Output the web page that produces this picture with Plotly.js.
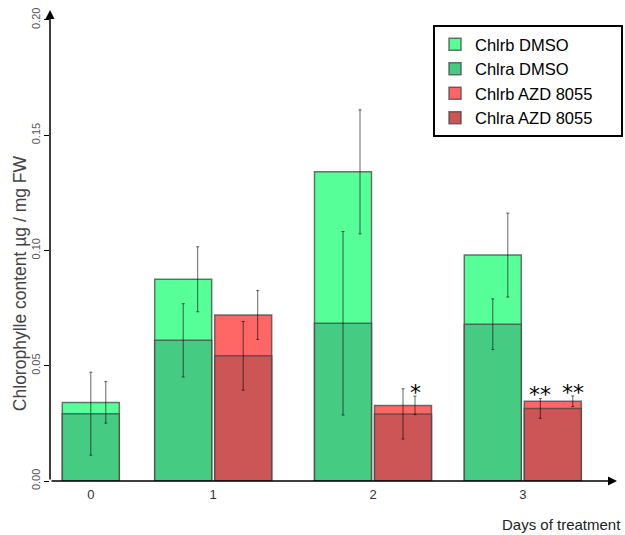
<!DOCTYPE html>
<html>
<head>
<meta charset="utf-8">
<script src="https://cdn.plot.ly/plotly-3.0.1.min.js"></script>
<style>html,body{margin:0;padding:0;background:#fff;}#chart{width:625px;height:535px;}</style>
</head>
<body>
<div id="chart"></div>
<script>
// ---- data ----
const days = ['0', '1', '2', '3'];
const seriesNames = ['Chlrb DMSO', 'Chlra DMSO', 'Chlrb AZD 8055', 'Chlra AZD 8055'];
const chlaDMSO = [0.0292, 0.0610, 0.0684, 0.0680];
const chlbDMSO = [0.0049, 0.0265, 0.0657, 0.0300];
const chlaAZD = [null, 0.0543, 0.0291, 0.0315];
const chlbAZD = [null, 0.0177, 0.0037, 0.0031];
const errChlaDMSO = [0.0180, 0.0159, 0.0398, 0.0110];
const errChlbDMSO = [0.0090, 0.0141, 0.0269, 0.0182];
const errChlaAZD = [null, 0.0149, 0.0109, 0.0043];
const errChlbAZD = [null, 0.0106, 0.0040, 0.0023];
const sigChlaAZD = ['', '', '', '**'];
const sigChlbAZD = ['', '', '*', '**'];

// ---- layout helpers (positions along the x axis) ----
const dayPos = [40.8, 163.2, 323, 472.8];
const barW = 57, grpOff = 30;
const offA_DMSO = [0, 0, 0, 0];
const offB_DMSO = [15, 14.5, 17, 15];
const offA_AZD = [0, 0, 0, -12.5];
const offB_AZD = [15, 14.5, 12, 20];
const xDMSO = dayPos.map((p, i) => i === 0 ? p : p - grpOff);
const xAZD = dayPos.map(p => p + grpOff);
const legendPad = '\u00a0'.repeat(5);

const totDMSO = chlaDMSO.map((a, i) => a + chlbDMSO[i]);
const totAZD = chlaAZD.map((a, i) => a === null ? null : a + chlbAZD[i]);

const lineStyle = {color: 'rgba(70,70,70,0.75)', width: 1.5};
const errStyle = (arr) => ({type: 'data', array: arr, visible: true, color: 'rgba(0,0,0,0.6)', thickness: 1, width: 1.5});
const shift = (xs, offs) => xs.map((v, i) => v + offs[i]);
const invisible = {size: 1, color: 'rgba(0,0,0,0)'};

const traces = [
  {type: 'bar', name: seriesNames[0] + legendPad, x: xDMSO, y: totDMSO, width: barW,
   marker: {color: '#57FF99', line: lineStyle}},
  {type: 'bar', name: seriesNames[1] + legendPad, x: xDMSO, y: chlaDMSO, width: barW,
   marker: {color: '#45CC82', line: lineStyle}},
  {type: 'bar', name: seriesNames[2] + legendPad, x: xAZD, y: totAZD, width: barW,
   marker: {color: '#FF6666', line: lineStyle}},
  {type: 'bar', name: seriesNames[3] + legendPad, x: xAZD, y: chlaAZD, width: barW,
   marker: {color: '#CC5555', line: lineStyle}},
  {type: 'scatter', mode: 'markers', showlegend: false, x: shift(xDMSO, offA_DMSO), y: chlaDMSO,
   marker: invisible, error_y: errStyle(errChlaDMSO)},
  {type: 'scatter', mode: 'markers', showlegend: false, x: shift(xDMSO, offB_DMSO), y: totDMSO,
   marker: invisible, error_y: errStyle(errChlbDMSO)},
  {type: 'scatter', mode: 'markers', showlegend: false, x: shift(xAZD, offA_AZD), y: chlaAZD,
   marker: invisible, error_y: errStyle(errChlaAZD)},
  {type: 'scatter', mode: 'markers', showlegend: false, x: shift(xAZD, offB_AZD), y: totAZD,
   marker: invisible, error_y: errStyle(errChlbAZD)}
];

const xMax = 567, yMax = 0.2043;
const annotations = [
  {xref: 'x', yref: 'y', x: xMax, y: 0, axref: 'x', ayref: 'y', ax: 0, ay: 0, text: '',
   showarrow: true, arrowhead: 2, arrowsize: 1.2, arrowwidth: 1.5, arrowcolor: '#000'},
  {xref: 'x', yref: 'y', x: 0, y: yMax, axref: 'x', ayref: 'y', ax: 0, ay: 0, text: '',
   showarrow: true, arrowhead: 2, arrowsize: 1.2, arrowwidth: 1.5, arrowcolor: '#000'},
  {xref: 'paper', yref: 'paper', x: -0.053, y: 0.42, text: 'Chlorophylle content µg / mg FW',
   textangle: -90, showarrow: false, xanchor: 'center', yanchor: 'middle',
   font: {family: 'Liberation Sans, Arial, sans-serif', size: 17.5, color: '#444'}},
  {xref: 'paper', yref: 'paper', x: 1.0106, y: -0.092, text: 'Days of treatment',
   showarrow: false, xanchor: 'right', yanchor: 'middle',
   font: {family: 'Liberation Sans, Arial, sans-serif', size: 15, color: '#222'}}
];
const sigFont = {family: 'DejaVu Sans, sans-serif', size: 22, color: '#000'};
sigChlaAZD.forEach((s, i) => {
  if (s) annotations.push({xref: 'x', yref: 'y', x: xAZD[i] + offA_AZD[i], y: chlaAZD[i] + errChlaAZD[i], text: s,
    showarrow: false, yanchor: 'bottom', yshift: -11, font: sigFont});
});
sigChlbAZD.forEach((s, i) => {
  if (s) annotations.push({xref: 'x', yref: 'y', x: xAZD[i] + offB_AZD[i], y: totAZD[i] + errChlbAZD[i], text: s,
    showarrow: false, yanchor: 'bottom', yshift: -11, font: sigFont});
});

const layout = {
  width: 625, height: 535,
  margin: {l: 50, r: 8, t: 10, b: 54, autoexpand: false},
  paper_bgcolor: '#fff', plot_bgcolor: '#fff',
  barmode: 'overlay',
  showlegend: true,
  hovermode: false,
  xaxis: {range: [0, xMax], showgrid: false, zeroline: false, showline: false,
    tickmode: 'array', tickvals: dayPos, ticktext: days, ticks: '', ticklabelstandoff: 4,
    tickfont: {family: 'Liberation Sans, Arial, sans-serif', size: 13, color: '#333'}},
  yaxis: {range: [0, yMax], showgrid: false, zeroline: false, showline: false,
    tickmode: 'array', tickvals: [0, 0.05, 0.10, 0.15, 0.20], ticktext: ['0.00', '0.05', '0.10', '0.15', '0.20'],
    ticks: 'outside', ticklen: 5, tickcolor: '#000', tickwidth: 1, tickangle: -90,
    tickfont: {family: 'Liberation Sans, Arial, sans-serif', size: 11, color: '#555'}},
  legend: {x: 1.0106, y: 0.968, xanchor: 'right', yanchor: 'top', bgcolor: '#fff',
    bordercolor: '#000', borderwidth: 2,
    font: {family: 'Liberation Sans, Arial, sans-serif', size: 16.5, color: '#000'}},
  annotations: annotations
};

Plotly.newPlot('chart', traces, layout, {displayModeBar: false, staticPlot: true});
</script>
</body>
</html>
